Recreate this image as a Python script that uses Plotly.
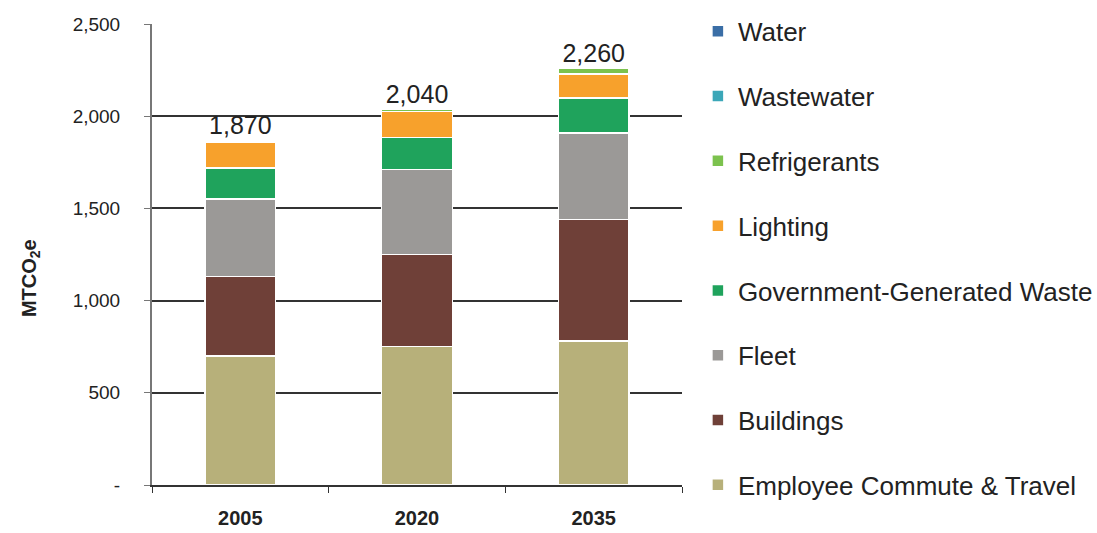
import plotly.graph_objects as go

years = ["2005", "2020", "2035"]

employee_commute = [700, 750, 780]
buildings = [430, 500, 660]
fleet = [420, 460, 470]
gov_waste = [170, 175, 190]
lighting = [140, 140, 130]
refrigerants = [10, 15, 30]
wastewater = [0, 0, 0]
water = [0, 0, 0]

series = [
    ("Employee Commute & Travel", employee_commute, "#b7b07a"),
    ("Buildings", buildings, "#6f4038"),
    ("Fleet", fleet, "#9b9997"),
    ("Government-Generated Waste", gov_waste, "#1fa35c"),
    ("Lighting", lighting, "#f7a12c"),
    ("Refrigerants", refrigerants, "#7cc24e"),
    ("Wastewater", wastewater, "#3ba7b8"),
    ("Water", water, "#3a6ea6"),
]

totals = [sum(v) for v in zip(*[s[1] for s in series])]

fig = go.Figure()
n = len(series)
for i, (name, vals, color) in enumerate(series):
    fig.add_trace(go.Bar(
        x=years, y=vals, name=name, legendgroup=name,
        legendrank=n - i,
        marker=dict(color=color, line=dict(color="white", width=1.5)),
        hoverinfo="skip",
    ))

fig.add_trace(go.Scatter(
    x=years, y=totals, mode="text",
    text=[f"{t:,}" for t in totals],
    textposition="top center",
    textfont=dict(family="Liberation Sans, Arial", size=25, color="#222"),
    showlegend=False, hoverinfo="skip",
))

fig.add_annotation(
    text="<b>MTCO<sub>2</sub>e</b>", textangle=-90,
    xref="paper", yref="paper", x=-0.230, y=0.449,
    xanchor="center", yanchor="middle", showarrow=False,
    font=dict(size=20, color="#222"),
)

fig.update_layout(
    barmode="stack",
    bargap=0.6,
    width=1097, height=533,
    margin=dict(l=152, r=415, t=24, b=48, autoexpand=False),
    plot_bgcolor="white", paper_bgcolor="white",
    font=dict(family="Liberation Sans, Arial", color="#222"),
    legend=dict(
        x=1.030, y=1.035, xanchor="left", yanchor="top",
        traceorder="grouped",
        tracegroupgap=28,
        maxheight=533,
        font=dict(size=26, color="#222"),
        bgcolor="rgba(0,0,0,0)",
    ),
    xaxis=dict(
        automargin=False,
        showline=True, linecolor="#333", linewidth=1.5,
        ticks="outside", ticklen=6, tickcolor="#333",
        tickson="boundaries",
        ticklabelstandoff=14,
        tickfont=dict(size=20, color="#222", family="Liberation Sans, Arial", weight="bold"),
        showgrid=False,
    ),
    yaxis=dict(
        automargin=False,
        range=[0, 2500],
        tickvals=[0, 500, 1000, 1500, 2000, 2500],
        ticktext=["-", "500", "1,000", "1,500", "2,000", "2,500"],
        tickfont=dict(size=19, color="#222"),
        ticks="outside", ticklen=6, tickcolor="#777",
        ticklabelstandoff=20,
        showline=True, linecolor="#777", linewidth=2,
        showgrid=True, gridcolor="#333", gridwidth=1.5,
        zeroline=False,
    ),
)

fig.write_html("out.html")
